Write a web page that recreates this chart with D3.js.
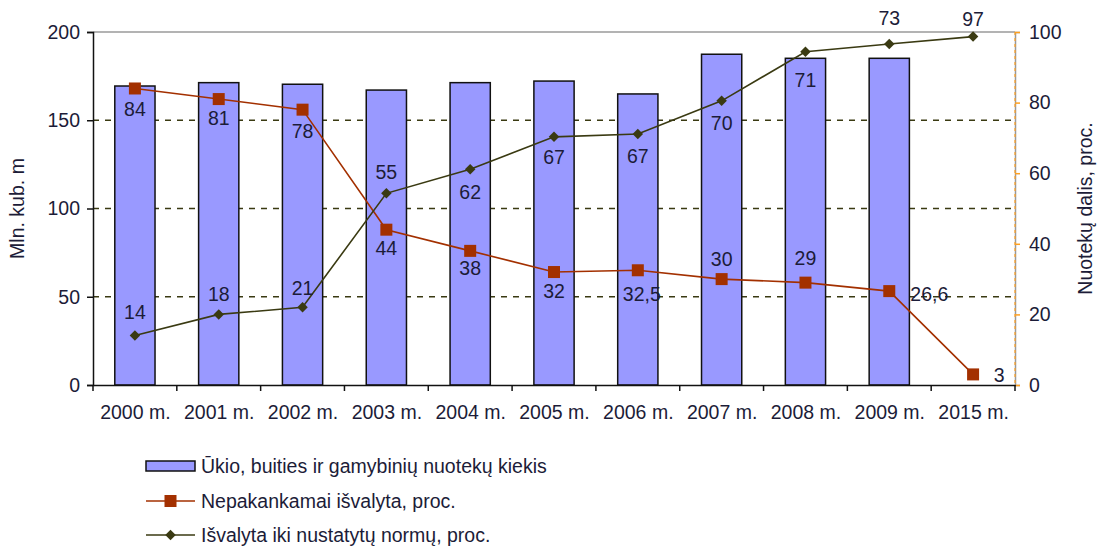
<!DOCTYPE html>
<html><head><meta charset="utf-8">
<script src="https://cdn.jsdelivr.net/npm/d3@7"></script>
<style>body{margin:0;background:#fff;}svg{display:block;font-family:"Liberation Sans",Arial,sans-serif;}</style>
</head><body><svg id="c" width="1099" height="548"></svg>
<script>
const categories = ["2000 m.","2001 m.","2002 m.","2003 m.","2004 m.","2005 m.","2006 m.","2007 m.","2008 m.","2009 m.","2015 m."];
const volume = [169.4,171.3,170.4,167.1,171.3,172.2,164.9,187.4,185.1,185.1,null];
const insufficient = [84,81,78,44,38,32,32.5,30,29,26.6,3];
const insufficientLabels = ["84","81","78","44","38","32","32,5","30","29","26,6","3"];
const treated = [14,20,22,54.3,61.1,70.3,71.1,80.5,94.4,96.6,98.7];
const treatedLabels = ["14","18","21","55","62","67","67","70","71","73","97"];
const leftTicks = [0,50,100,150,200];
const rightTicks = [0,20,40,60,80,100];
const legendLabels = ["Ūkio, buities ir gamybinių nuotekų kiekis","Nepakankamai išvalyta, proc.","Išvalyta iki nustatytų normų, proc."];

const svg = d3.select("#c");
const L=93, R=1015, T=32, B=385;
const x = d3.scaleBand().domain(categories).range([L,R]).paddingInner(0.52).paddingOuter(0.26);
const xc = d3.scalePoint().domain(categories).range([L,R]).padding(0.5);
const yL = d3.scaleLinear().domain([0,200]).range([B,T]);
const yR = d3.scaleLinear().domain([0,100]).range([B,T]);
const txt="#1c1c38", red="#a33000", green="#3a3a12";
const fs=19.5;

// gridlines
svg.append("g").selectAll("line").data([50,100,150]).join("line")
  .attr("x1",L).attr("x2",R).attr("y1",d=>yL(d)).attr("y2",d=>yL(d))
  .attr("stroke","#3a3a12").attr("stroke-width",1.3).attr("stroke-dasharray","6,6");
svg.append("line").attr("x1",L).attr("x2",R).attr("y1",T).attr("y2",T).attr("stroke","#9a9a9a").attr("stroke-width",1.5);

// bars
svg.append("g").selectAll("rect").data(categories.map((c,i)=>({c,v:volume[i]})).filter(d=>d.v!=null)).join("rect")
  .attr("x",d=>x(d.c)).attr("width",x.bandwidth()).attr("y",d=>yL(d.v)).attr("height",d=>B-yL(d.v))
  .attr("fill","#9999ff").attr("stroke","#111").attr("stroke-width",1.5);

// left axis
const gl = svg.append("g").attr("transform",`translate(${L},0)`).call(d3.axisLeft(yL).tickValues(leftTicks).tickSize(6).tickPadding(7));
gl.select(".domain").attr("stroke","#111").attr("stroke-width",1.5);
gl.selectAll(".tick line").attr("stroke","#111").attr("stroke-width",1.5);
gl.selectAll("text").attr("font-size",fs).attr("fill",txt).attr("font-family","Liberation Sans, Arial");

// right axis
const gr = svg.append("g").attr("transform",`translate(${R},0)`).call(d3.axisRight(yR).tickValues(rightTicks).tickSize(5).tickPadding(9));
gr.select(".domain").attr("stroke","#999").attr("stroke-width",1.5);
gr.selectAll(".tick line").attr("stroke","#ffa020").attr("stroke-width",1.5);
gr.selectAll("text").attr("font-size",fs).attr("fill",txt).attr("font-family","Liberation Sans, Arial");
svg.append("line").attr("x1",R).attr("x2",R).attr("y1",T).attr("y2",B).attr("stroke","#ffa020").attr("stroke-width",1.2).attr("stroke-dasharray","3,3");

// bottom axis
const gb = svg.append("g").attr("transform",`translate(0,${B})`).call(d3.axisBottom(xc).tickSize(0).tickPadding(20));
gb.select(".domain").attr("stroke","#111").attr("stroke-width",1.5);
gb.selectAll("text").attr("font-size",fs).attr("fill",txt).attr("font-family","Liberation Sans, Arial");
const step = (R-L)/categories.length;
svg.append("g").selectAll("line").data(d3.range(categories.length+1)).join("line")
  .attr("x1",i=>L+i*step).attr("x2",i=>L+i*step).attr("y1",B).attr("y2",B+6).attr("stroke","#111").attr("stroke-width",1.5);

// axis titles
svg.append("text").attr("transform",`translate(24,${(T+B)/2}) rotate(-90)`).attr("text-anchor","middle")
  .attr("font-size",fs).attr("fill",txt).text("Mln. kub. m");
svg.append("text").attr("transform",`translate(1092,${(T+B)/2}) rotate(-90)`).attr("text-anchor","middle")
  .attr("font-size",fs).attr("fill",txt).text("Nuotekų dalis, proc.");

// lines
const lineR = d3.line().x((d,i)=>xc(categories[i])).y(d=>yR(d));
svg.append("path").datum(insufficient).attr("d",lineR).attr("fill","none").attr("stroke",red).attr("stroke-width",1.6);
svg.append("path").datum(treated).attr("d",lineR).attr("fill","none").attr("stroke",green).attr("stroke-width",1.6);
svg.append("g").selectAll("rect").data(insufficient).join("rect")
  .attr("x",(d,i)=>xc(categories[i])-6).attr("y",d=>yR(d)-6).attr("width",12).attr("height",12).attr("fill",red);
svg.append("g").selectAll("path").data(treated).join("path")
  .attr("transform",(d,i)=>`translate(${xc(categories[i])},${yR(d)})`)
  .attr("d",d3.symbol(d3.symbolDiamond2,70)).attr("fill",green);

// labels: offsets (dx, dy) relative to point centre
const redOff = [[0,21],[0,19],[0,21],[0,18],[0,17],[0,19],[4,24],[0,-20],[0,-25],[40,3],[26,1]];
const greenOff = [[0,-24],[0,-20],[0,-19],[0,-21],[0,23],[0,20],[0,22],[0,22],[0,28],[0,-26],[0,-18]];
function labels(vals, labs, offs){
  svg.append("g").selectAll("text").data(vals).join("text")
    .attr("x",(d,i)=>xc(categories[i])+offs[i][0]).attr("y",(d,i)=>yR(d)+offs[i][1])
    .attr("text-anchor","middle").attr("dominant-baseline","central")
    .attr("font-size",fs).attr("fill",txt).text((d,i)=>labs[i]);
}
labels(insufficient, insufficientLabels, redOff);
labels(treated, treatedLabels, greenOff);

// legend
const lg = svg.append("g");
const ly = [466,501,535];
lg.append("rect").attr("x",146).attr("y",ly[0]-5).attr("width",49).attr("height",10).attr("fill","#9999ff").attr("stroke","#111").attr("stroke-width",1.5);
lg.append("line").attr("x1",146).attr("x2",195).attr("y1",ly[1]).attr("y2",ly[1]).attr("stroke",red).attr("stroke-width",1.6);
lg.append("rect").attr("x",164.5).attr("y",ly[1]-6).attr("width",12).attr("height",12).attr("fill",red);
lg.append("line").attr("x1",146).attr("x2",195).attr("y1",ly[2]).attr("y2",ly[2]).attr("stroke",green).attr("stroke-width",1.6);
lg.append("path").attr("transform",`translate(170.5,${ly[2]})`).attr("d",d3.symbol(d3.symbolDiamond2,70)).attr("fill",green);
lg.selectAll("text").data(legendLabels).join("text").attr("x",201).attr("y",(d,i)=>ly[i]).attr("dominant-baseline","central")
  .attr("font-size",19.5).attr("fill",txt).text(d=>d);
</script></body></html>
